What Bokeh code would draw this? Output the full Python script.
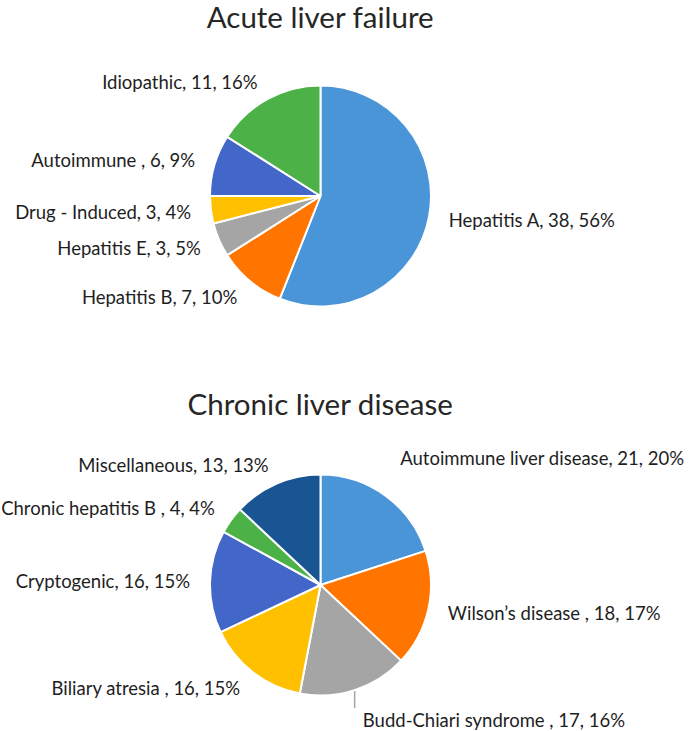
import math
from bokeh.plotting import figure
from bokeh.models import Range1d, ColumnDataSource
from bokeh.embed import file_html
from bokeh.resources import INLINE
from bokeh.core.properties import value

# ---------------- data ----------------
alf_title = "Acute liver failure"
alf_causes = ["Hepatitis A", "Hepatitis B", "Hepatitis E", "Drug - Induced", "Autoimmune ", "Idiopathic"]
alf_counts = [38, 7, 3, 3, 6, 11]
alf_pcts = [56, 10, 5, 4, 9, 16]

cld_title = "Chronic liver disease"
cld_causes = ["Autoimmune liver disease", "Wilson\u2019s disease ", "Budd-Chiari syndrome ",
              "Biliary atresia ", "Cryptogenic", "Chronic hepatitis B ", "Miscellaneous"]
cld_counts = [21, 18, 17, 16, 16, 4, 13]
cld_pcts = [20, 17, 16, 15, 15, 4, 13]

# ---------------- styles ----------------
alf_colors = ["#4A94D8", "#FF7500", "#A5A5A5", "#FFC000", "#4267C8", "#4CB248"]
cld_colors = ["#4A94D8", "#FF7500", "#A5A5A5", "#FFC000", "#4267C8", "#4CB248", "#1A5593"]
FONT = "Lato"
LABEL_SIZE = "18.5px"
TEXT_COLOR = "#1e1e1e"
W, H = 694, 731

p = figure(width=W, height=H, x_range=Range1d(0, W), y_range=Range1d(0, H),
           output_backend="svg", toolbar_location=None, min_border=0)
p.axis.visible = False
p.grid.visible = False
p.outline_line_color = None
p.background_fill_color = "white"
p.border_fill_color = "white"

R = 110.5
GAP = 20


def draw_pie(cx, cy, title, title_y, title_size, causes, counts, pcts, colors, nudges, leaders):
    total = float(sum(pcts))
    starts, ends, labels, lx, ly, la = [], [], [], [], [], []
    cum = 0.0
    for i, (c, n, pc) in enumerate(zip(causes, counts, pcts)):
        a0 = math.pi / 2 - 2 * math.pi * cum / total
        cum += pc
        a1 = math.pi / 2 - 2 * math.pi * cum / total
        starts.append(a0)
        ends.append(a1)
        mid = (a0 + a1) / 2
        dx, dy = math.cos(mid), math.sin(mid)
        x = cx + (R + GAP) * dx
        y = cy + (R + GAP) * dy
        nx, ny = nudges.get(i, (0, 0))
        x += nx
        y += ny
        lx.append(x)
        ly.append(y)
        la.append("left" if dx > 0 else "right")
        labels.append(f"{c}, {n}, {pc}%")
        if i in leaders:
            ex, ey = cx + R * dx, cy + R * dy
            p.segment(x0=[ex], y0=[ey], x1=[ex], y1=[y + 12], line_color="#A5A5A5", line_width=1.5)
    src = ColumnDataSource(dict(start=starts, end=ends, color=colors))
    p.wedge(x=cx, y=cy, radius=R, start_angle="start", end_angle="end", direction="clock",
            fill_color="color", line_color="white", line_width=2, source=src)
    lsrc = ColumnDataSource(dict(x=lx, y=ly, text=labels, align=la))
    p.text(x="x", y="y", text="text", text_align="align", text_baseline="middle",
           text_font=value(FONT), text_font_size=LABEL_SIZE, text_color=TEXT_COLOR, source=lsrc)
    p.text(x=[cx], y=[title_y], text=[title], text_align="center", text_baseline="middle",
           text_font=value(FONT), text_font_size=title_size, text_color="#262626")


# screen y -> data y : data = 731 - screen
draw_pie(320, 731 - 195.5, alf_title, 731 - 16, "29.5px", alf_causes, alf_counts, alf_pcts,
         alf_colors, {}, [])
draw_pie(320, 731 - 584.5, cld_title, 731 - 403, "29.5px", cld_causes, cld_counts, cld_pcts,
         cld_colors, {0: (3, 21), 2: (2, -11)}, [2])

open("out.html", "w").write(file_html(p, INLINE))
